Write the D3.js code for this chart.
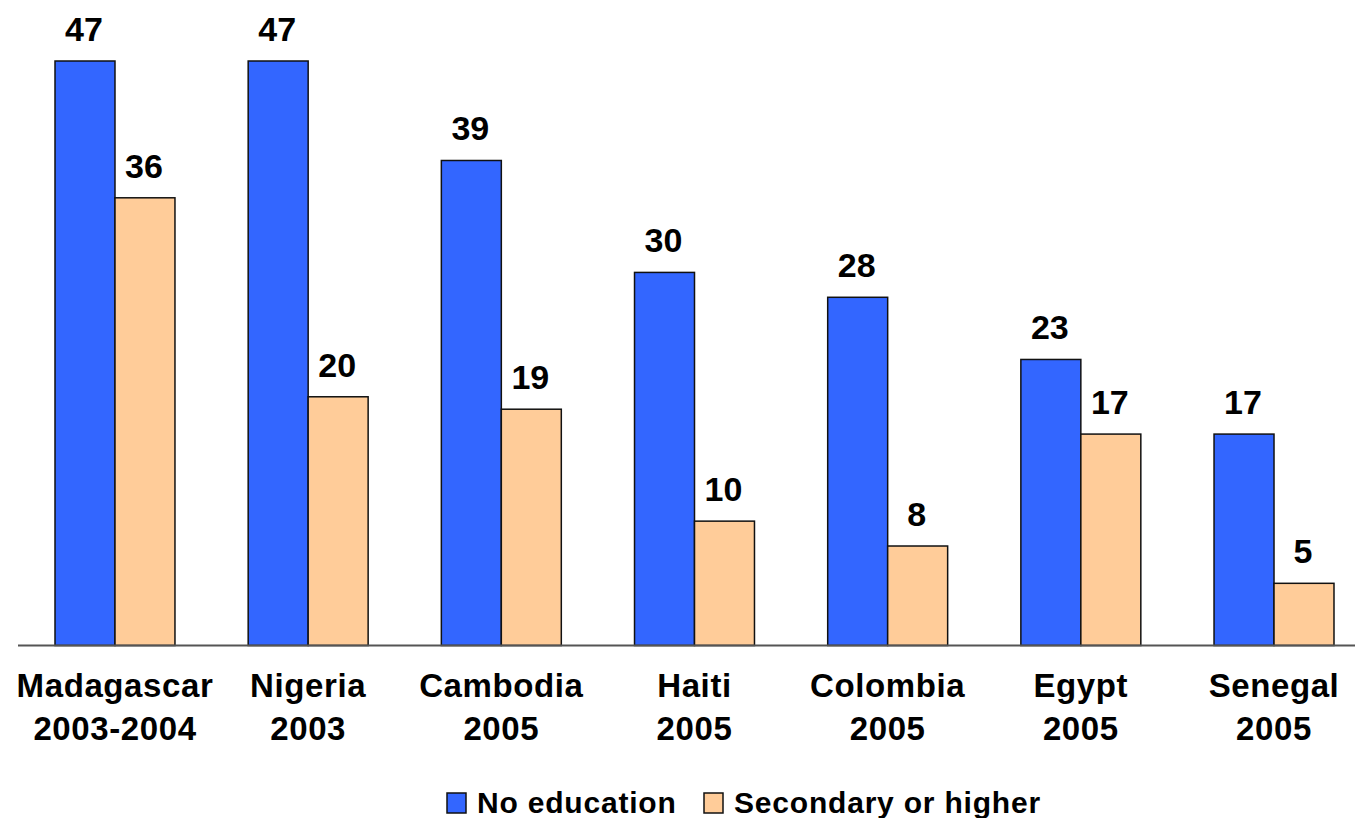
<!DOCTYPE html>
<html>
<head>
<meta charset="utf-8">
<script src="https://cdn.jsdelivr.net/npm/d3@7"></script>
<style>
  body { margin: 0; background: #fff; }
  svg { display: block; font-family: "Liberation Sans", Arial, sans-serif; font-weight: bold; }
</style>
</head>
<body>
<div id="chart"></div>
<script>
var WIDTH = 1355
var HEIGHT = 818

// data
var countries = ['Madagascar', 'Nigeria', 'Cambodia', 'Haiti', 'Colombia', 'Egypt', 'Senegal'];
var years = ['2003-2004', '2003', '2005', '2005', '2005', '2005', '2005'];
var series = ['No education', 'Secondary or higher'];
var noEducation = [47, 47, 39, 30, 28, 23, 17];
var secondary = [36, 20, 19, 10, 8, 17, 5];
var colors = ['#3366FF', '#FFCC99'];

var rows = countries.map((c, i) => ({
    country: c,
    values: [noEducation[i], secondary[i]]
}));

const svg = d3.select('#chart').append('svg')
    .attr('width', WIDTH)
    .attr('height', HEIGHT);

let x0 = d3.scaleBand()
    .domain(countries)
    .range([18.4, 1370.6])
    .paddingInner(0.379)
    .paddingOuter(0.1895);

let x1 = d3.scaleBand()
    .domain(series)
    .range([0, x0.bandwidth()]);

let y = d3.scaleLinear()
    .domain([0, 47])
    .range([645.5, 61]);

var groups = svg.selectAll('g.group')
    .data(rows)
    .enter()
    .append('g')
    .attr('class', 'group')
    .attr('transform', d => 'translate(' + x0(d.country) + ',0)');

var cells = groups.selectAll('g.cell')
    .data(d => d.values.map((v, i) => ({ key: series[i], value: v, idx: i })))
    .enter()
    .append('g')
    .attr('class', 'cell');

cells.append('rect')
    .attr('x', d => x1(d.key))
    .attr('y', d => y(d.value))
    .attr('width', x1.bandwidth())
    .attr('height', d => y(0) - y(d.value))
    .attr('fill', d => colors[d.idx])
    .attr('stroke', '#111')
    .attr('stroke-width', 1.5);

cells.append('text')
    .attr('x', d => x1(d.key) + x1.bandwidth() / 2 - 1)
    .attr('y', d => y(d.value) - 20)
    .attr('text-anchor', 'middle')
    .attr('font-size', 34)
    .attr('fill', '#000')
    .text(d => d.value);

// baseline
svg.append('line')
    .attr('x1', 18)
    .attr('x2', WIDTH)
    .attr('y1', y(0))
    .attr('y2', y(0))
    .attr('stroke', '#555')
    .attr('stroke-width', 2);

// category labels, two lines
var labels = svg.selectAll('text.cat')
    .data(countries)
    .enter()
    .append('text')
    .attr('class', 'cat')
    .attr('text-anchor', 'middle')
    .attr('font-size', 33)
    .attr('letter-spacing', 0.6)
    .attr('fill', '#000');

labels.append('tspan')
    .attr('x', d => x0(d) + x0.bandwidth() / 2)
    .attr('y', 697)
    .text(d => d);

labels.append('tspan')
    .attr('x', d => x0(d) + x0.bandwidth() / 2)
    .attr('y', 740)
    .text((d, i) => years[i]);

// legend
var legendX = [447, 704];
var legend = svg.selectAll('g.legend')
    .data(series)
    .enter()
    .append('g')
    .attr('class', 'legend')
    .attr('transform', (d, i) => 'translate(' + legendX[i] + ',793)');

legend.append('rect')
    .attr('width', 19)
    .attr('height', 20)
    .attr('fill', (d, i) => colors[i])
    .attr('stroke', '#111')
    .attr('stroke-width', 1.5);

legend.append('text')
    .attr('x', 30)
    .attr('y', 20)
    .attr('font-size', 30)
    .attr('letter-spacing', 0.8)
    .attr('fill', '#000')
    .text(d => d);
</script>
</body>
</html>
